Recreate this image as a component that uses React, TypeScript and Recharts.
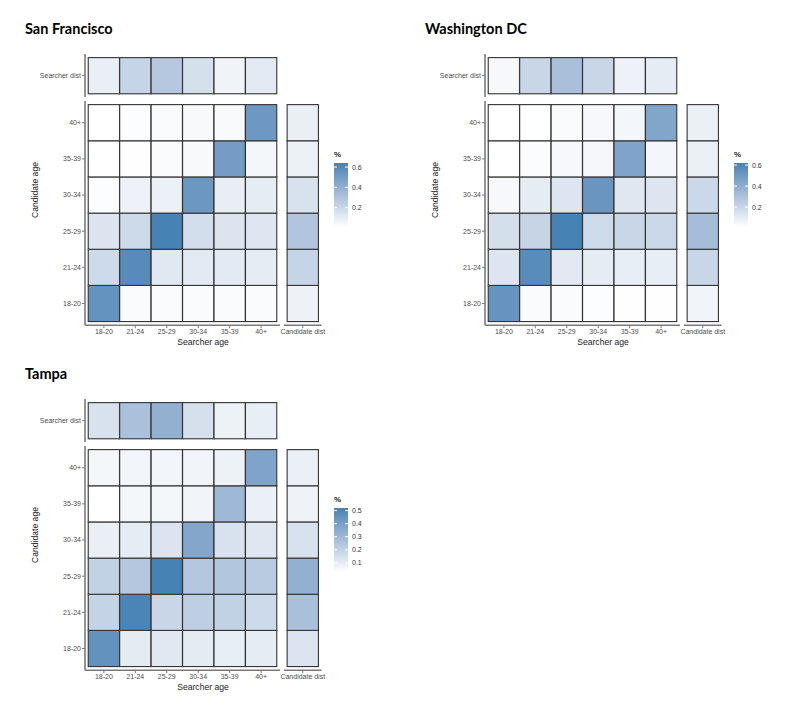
import { ScatterChart, Scatter, XAxis, YAxis } from "recharts";

const AGES = ["18-20", "21-24", "25-29", "30-34", "35-39", "40+"];

// matrix[r][c]: r = candidate age index (18-20 first), c = searcher age index
const SF_MATRIX = [
  [0.55, 0.03, 0.03, 0.03, 0.03, 0.03],
  [0.19, 0.59, 0.12, 0.11, 0.11, 0.1],
  [0.14, 0.19, 0.64, 0.17, 0.14, 0.13],
  [0.02, 0.07, 0.08, 0.53, 0.09, 0.1],
  [0.01, 0.015, 0.03, 0.04, 0.5, 0.05],
  [0.01, 0.02, 0.03, 0.04, 0.035, 0.52],
];
const SF_SEARCHER = [0.085, 0.22, 0.275, 0.16, 0.065, 0.11];
const SF_CANDIDATE = [0.07, 0.22, 0.29, 0.15, 0.08, 0.085];

const DC_MATRIX = [
  [0.53, 0.03, 0.03, 0.02, 0.015, 0.015],
  [0.13, 0.57, 0.11, 0.1, 0.09, 0.09],
  [0.16, 0.21, 0.62, 0.18, 0.2, 0.19],
  [0.04, 0.1, 0.13, 0.52, 0.12, 0.13],
  [0.01, 0.025, 0.04, 0.045, 0.45, 0.05],
  [0.01, 0.012, 0.03, 0.04, 0.05, 0.44],
];
const DC_SEARCHER = [0.04, 0.2, 0.31, 0.2, 0.07, 0.1];
const DC_CANDIDATE = [0.06, 0.2, 0.32, 0.19, 0.08, 0.08];

const TPA_MATRIX = [
  [0.455, 0.105, 0.115, 0.105, 0.095, 0.1],
  [0.195, 0.51, 0.185, 0.21, 0.2, 0.17],
  [0.2, 0.24, 0.52, 0.24, 0.245, 0.225],
  [0.09, 0.1, 0.13, 0.37, 0.14, 0.12],
  [0.03, 0.06, 0.06, 0.07, 0.3, 0.085],
  [0.06, 0.065, 0.065, 0.07, 0.08, 0.38],
];
const TPA_SEARCHER = [0.14, 0.265, 0.33, 0.145, 0.08, 0.095];
const TPA_CANDIDATE = [0.13, 0.27, 0.33, 0.14, 0.075, 0.085];

const SF_LEGEND = [0.2, 0.4, 0.6];
const DC_LEGEND = [0.2, 0.4, 0.6];
const TPA_LEGEND = [0.1, 0.2, 0.3, 0.4, 0.5];

// ---- white -> steelblue, interpolated in Lab like ggplot ----
const toLin = (c: number) => (c <= 0.04045 ? c / 12.92 : ((c + 0.055) / 1.055) ** 2.4);
const toSrgb = (c: number) => (c <= 0.0031308 ? 12.92 * c : 1.055 * c ** (1 / 2.4) - 0.055);
const f = (t: number) => (t > 0.008856 ? Math.cbrt(t) : 7.787 * t + 16 / 116);
const finv = (t: number) => (t ** 3 > 0.008856 ? t ** 3 : (t - 16 / 116) / 7.787);

function rgbToLab([r, g, b]: number[]) {
  const R = toLin(r / 255), G = toLin(g / 255), B = toLin(b / 255);
  const x = (0.4124 * R + 0.3576 * G + 0.1805 * B) / 0.95047;
  const y = 0.2126 * R + 0.7152 * G + 0.0722 * B;
  const z = (0.0193 * R + 0.1192 * G + 0.9505 * B) / 1.08883;
  return [116 * f(y) - 16, 500 * (f(x) - f(y)), 200 * (f(y) - f(z))];
}
function labToHex([L, a, bb]: number[]) {
  const fy = (L + 16) / 116;
  const x = finv(fy + a / 500) * 0.95047, y = finv(fy), z = finv(fy - bb / 200) * 1.08883;
  const r = 3.2406 * x - 1.5372 * y - 0.4986 * z;
  const g = -0.9689 * x + 1.8758 * y + 0.0415 * z;
  const b = 0.0557 * x - 0.204 * y + 1.057 * z;
  const h = (c: number) => {
    const v = Math.round(Math.min(1, Math.max(0, toSrgb(c))) * 255);
    return v.toString(16).padStart(2, "0");
  };
  return "#" + h(r) + h(g) + h(b);
}
const LOW = rgbToLab([255, 255, 255]);
const HIGH = rgbToLab([70, 130, 180]);
const mix = (t: number) => labToHex(LOW.map((l, i) => l + (HIGH[i] - l) * t));

// ---- layout ----
const PLOT_X = 85;
const PLOT_W = 194;
const UX = PLOT_W / 6.2;
const MAIN_Y = 101.4;
const MAIN_H = 224.2;
const UY = MAIN_H / 6.2;
const TOP_Y = 54;
const TOP_H = UY * 1.2;
const RIGHT_X = 284;
const RIGHT_W = UX * 1.2;
const RIGHT_PAD = 20;
const YAX_W = 50;
const XAX_H = 20;

const axisLine = { stroke: "#7a7a7a", strokeWidth: 1.6 };
const tickLine = { stroke: "#7a7a7a" };
const M0 = { top: 0, right: 0, bottom: 0, left: 0 };

// plain single-line tick labels (Recharts would wrap the long ones)
const xTick = (fmt: (v: number) => string) => (p: any) => (
  <text x={p.x} y={p.y} dy="0.71em" textAnchor="middle" fontSize={7} fill="#4d4d4d">
    {fmt(p.payload.value)}
  </text>
);
const yTick = (fmt: (v: number) => string) => (p: any) => (
  <text x={p.x} y={p.y} dy="0.35em" textAnchor="end" fontSize={7} fill="#4d4d4d">
    {fmt(p.payload.value)}
  </text>
);
const ageFmt = (i: number) => AGES[i];

type Pt = { x: number; y: number; v: number };

function cellShape(color: (v: number) => string) {
  return (props: any) => {
    const { cx, cy, payload } = props;
    return (
      <rect
        x={cx - UX / 2}
        y={cy - UY / 2}
        width={UX}
        height={UY}
        fill={color(payload.v)}
        stroke="#333"
        strokeWidth={1.1}
      />
    );
  };
}

interface PanelProps {
  ox: number;
  oy: number;
  title: string;
  matrix: number[][];
  searcher: number[];
  candidate: number[];
  legend: number[];
}

function Panel({ ox, oy, title, matrix, searcher, candidate, legend }: PanelProps) {
  const all = [...matrix.flat(), ...searcher, ...candidate];
  const lo = Math.min(...all);
  const hi = Math.max(...all);
  const color = (v: number) => mix((v - lo) / (hi - lo));
  const shape = cellShape(color);

  const mainData: Pt[] = [];
  matrix.forEach((row, r) => row.forEach((v, c) => mainData.push({ x: c, y: r, v })));
  const topData: Pt[] = searcher.map((v, c) => ({ x: c, y: 0, v }));
  const rightData: Pt[] = candidate.map((v, r) => ({ x: 0, y: r, v }));

  const LX = 334, LY = 163, LW = 14, LH = 64;
  const stops = Array.from({ length: 11 }, (_, i) => i / 10);
  const gid = "grad-" + title.replace(/\s/g, "");

  return (
    <div style={{ position: "absolute", left: ox, top: oy, width: 400, height: 360 }}>
      <div
        style={{
          position: "absolute", left: 25, top: 20, fontFamily: "Lato, 'Open Sans', sans-serif",
          fontWeight: 700, fontSize: 14.5, color: "#000", whiteSpace: "nowrap",
        }}
      >
        {title}
      </div>

      {/* top strip: searcher distribution */}
      <div style={{ position: "absolute", left: PLOT_X - YAX_W, top: TOP_Y }}>
        <ScatterChart width={YAX_W + PLOT_W + 1} height={TOP_H} margin={M0}>
          <XAxis type="number" dataKey="x" domain={[-0.6, 5.6]} hide />
          <YAxis
            type="number" dataKey="y" domain={[-0.6, 0.6]} ticks={[0]} width={YAX_W}
            tick={yTick(() => "Searcher dist")} axisLine={axisLine}
            tickLine={tickLine} tickSize={3} tickMargin={1}
          />
          <Scatter data={topData} shape={shape} isAnimationActive={false} />
        </ScatterChart>
      </div>

      {/* main matrix */}
      <div style={{ position: "absolute", left: PLOT_X - YAX_W, top: MAIN_Y }}>
        <ScatterChart width={YAX_W + PLOT_W + 1} height={MAIN_H + XAX_H} margin={M0}>
          <XAxis
            type="number" dataKey="x" domain={[-0.6, 5.6]} ticks={[0, 1, 2, 3, 4, 5]} interval={0}
            tick={xTick(ageFmt)} axisLine={axisLine}
            tickLine={tickLine} tickSize={3} tickMargin={1} height={XAX_H}
          />
          <YAxis
            type="number" dataKey="y" domain={[-0.6, 5.6]} ticks={[0, 1, 2, 3, 4, 5]} interval={0}
            tick={yTick(ageFmt)} axisLine={axisLine}
            tickLine={tickLine} tickSize={3} tickMargin={1} width={YAX_W}
          />
          <Scatter data={mainData} shape={shape} isAnimationActive={false} />
        </ScatterChart>
      </div>

      {/* right strip: candidate distribution */}
      <div style={{ position: "absolute", left: RIGHT_X - RIGHT_PAD, top: MAIN_Y }}>
        <ScatterChart
          width={RIGHT_W + 2 * RIGHT_PAD}
          height={MAIN_H + XAX_H}
          margin={{ top: 0, right: RIGHT_PAD, bottom: 0, left: RIGHT_PAD }}
        >
          <XAxis
            type="number" dataKey="x" domain={[-0.6, 0.6]} ticks={[0]} interval={0}
            tick={xTick(() => "Candidate dist")} axisLine={axisLine}
            tickLine={tickLine} tickSize={3} tickMargin={1} height={XAX_H}
          />
          <YAxis type="number" dataKey="y" domain={[-0.6, 5.6]} hide />
          <Scatter data={rightData} shape={shape} isAnimationActive={false} />
        </ScatterChart>
      </div>

      {/* axis titles and colour legend */}
      <svg width={400} height={360} style={{ position: "absolute", left: 0, top: 0, pointerEvents: "none" }}>
        <defs>
          <linearGradient id={gid} x1="0" y1="1" x2="0" y2="0">
            {stops.map((s) => (
              <stop key={s} offset={s} stopColor={mix(s)} />
            ))}
          </linearGradient>
        </defs>
        <text x={203} y={345} textAnchor="middle" fontSize={8.6} fill="#1a1a1a">
          Searcher age
        </text>
        <text
          x={35} y={190} textAnchor="middle" fontSize={8.6} fill="#1a1a1a"
          transform="rotate(-90 35 190)" dy="0.35em"
        >
          Candidate age
        </text>
        <text x={LX} y={LY - 6} fontSize={8} fontWeight={700} fill="#1a1a1a">
          %
        </text>
        <rect x={LX} y={LY} width={LW} height={LH} fill={`url(#${gid})`} />
        {legend.map((t) => {
          const y = LY + ((hi - t) / (hi - lo)) * LH;
          return (
            <g key={t}>
              <line x1={LX} x2={LX + 3} y1={y} y2={y} stroke="#fff" strokeWidth={1} />
              <line x1={LX + LW - 3} x2={LX + LW} y1={y} y2={y} stroke="#fff" strokeWidth={1} />
              <text x={LX + LW + 4} y={y} dy="0.35em" fontSize={7} fill="#333">
                {t.toFixed(1)}
              </text>
            </g>
          );
        })}
      </svg>
    </div>
  );
}

export default function App() {
  return (
    <div
      style={{
        position: "absolute", left: 0, top: 0, width: 800, height: 719, background: "#fff",
        fontFamily: "'Liberation Sans', Arial, sans-serif",
      }}
    >
      <Panel ox={0} oy={0} title="San Francisco" matrix={SF_MATRIX} searcher={SF_SEARCHER} candidate={SF_CANDIDATE} legend={SF_LEGEND} />
      <Panel ox={400} oy={0} title="Washington DC" matrix={DC_MATRIX} searcher={DC_SEARCHER} candidate={DC_CANDIDATE} legend={DC_LEGEND} />
      <Panel ox={0} oy={345} title="Tampa" matrix={TPA_MATRIX} searcher={TPA_SEARCHER} candidate={TPA_CANDIDATE} legend={TPA_LEGEND} />
    </div>
  );
}
